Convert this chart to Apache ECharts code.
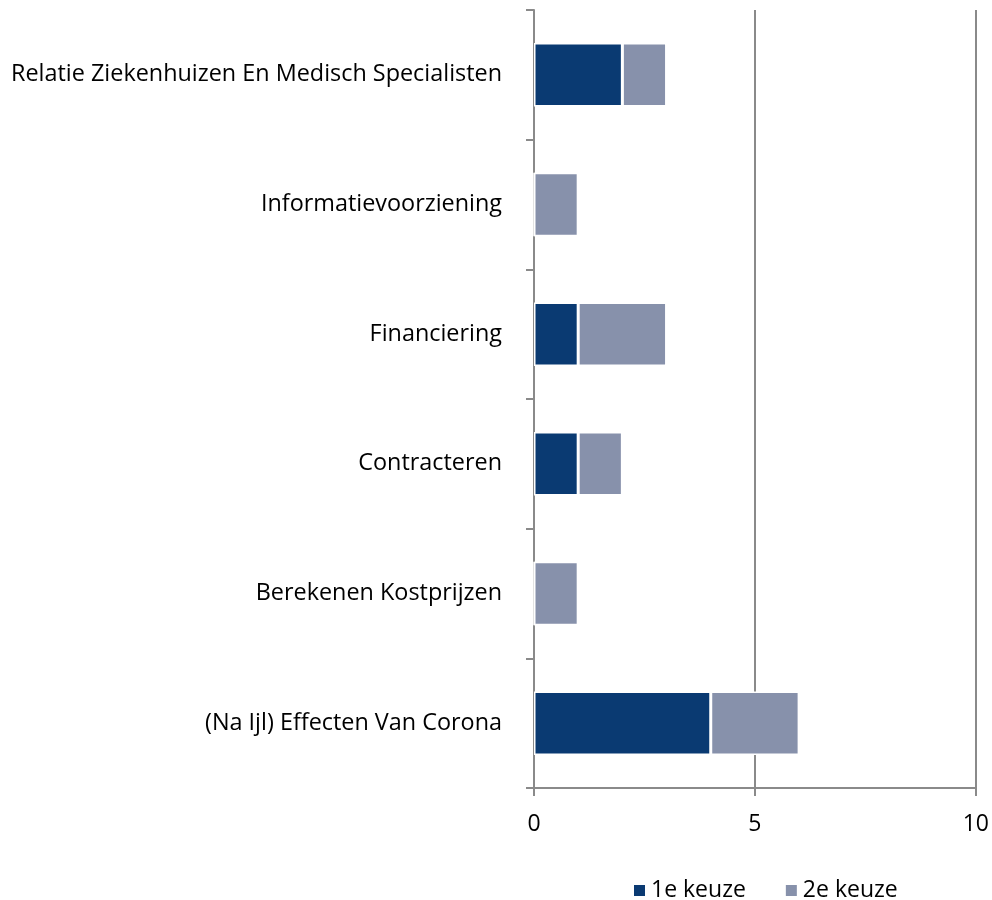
<!DOCTYPE html>
<html><head><meta charset="utf-8">
<script src="https://cdn.jsdelivr.net/npm/echarts@6/dist/echarts.min.js"></script>
<style>html,body{margin:0;padding:0;background:#fff}#c{width:992px;height:900px}</style>
</head><body><div id="c"></div>
<script>
const categories = ["Relatie Ziekenhuizen En Medisch Specialisten","Informatievoorziening","Financiering","Contracteren","Berekenen Kostprijzen","(Na Ijl) Effecten Van Corona"];
const keuze1 = [2, 0, 1, 1, 0, 4];
const keuze2 = [1, 1, 2, 1, 1, 2];
const seriesNames = ["1e keuze","2e keuze"];
const xTicks = [0, 5, 10];

const font = "Open Sans";
const chart = echarts.init(document.getElementById('c'));
chart.setOption({
  animation:false,
  textStyle:{fontFamily:font},
  grid:{left:534,right:15,top:10,bottom:112,containLabel:false},
  legend:{top:874,left:627,itemWidth:13,itemHeight:13,itemGap:38,icon:'rect',
    textStyle:{fontSize:23,color:'#000',fontFamily:font},data:seriesNames},
  xAxis:{type:'value',min:xTicks[0],max:xTicks[xTicks.length-1],interval:5,
    axisLine:{show:true,lineStyle:{color:'#8a8a8a',width:2}},
    axisTick:{show:true,length:8,lineStyle:{color:'#8a8a8a',width:2}},
    axisLabel:{fontSize:23,color:'#000',margin:25,fontFamily:font},
    splitLine:{show:true,lineStyle:{color:'#8a8a8a',width:2}}},
  yAxis:{type:'category',data:categories,inverse:true,
    axisLine:{lineStyle:{color:'#8a8a8a',width:2}},
    axisTick:{show:true,length:8,lineStyle:{color:'#8a8a8a',width:2}},
    axisLabel:{fontSize:23.4,color:'#000',margin:32,fontFamily:font}},
  series:[
    {name:seriesNames[0],type:'bar',stack:'a',data:keuze1,barCategoryGap:'51%',
      itemStyle:{color:'#0a3a72',borderColor:'#fff',borderWidth:1.5}},
    {name:seriesNames[1],type:'bar',stack:'a',data:keuze2,barCategoryGap:'51%',
      itemStyle:{color:'#8791ab',borderColor:'#fff',borderWidth:1.5}}
  ]
});
</script></body></html>
